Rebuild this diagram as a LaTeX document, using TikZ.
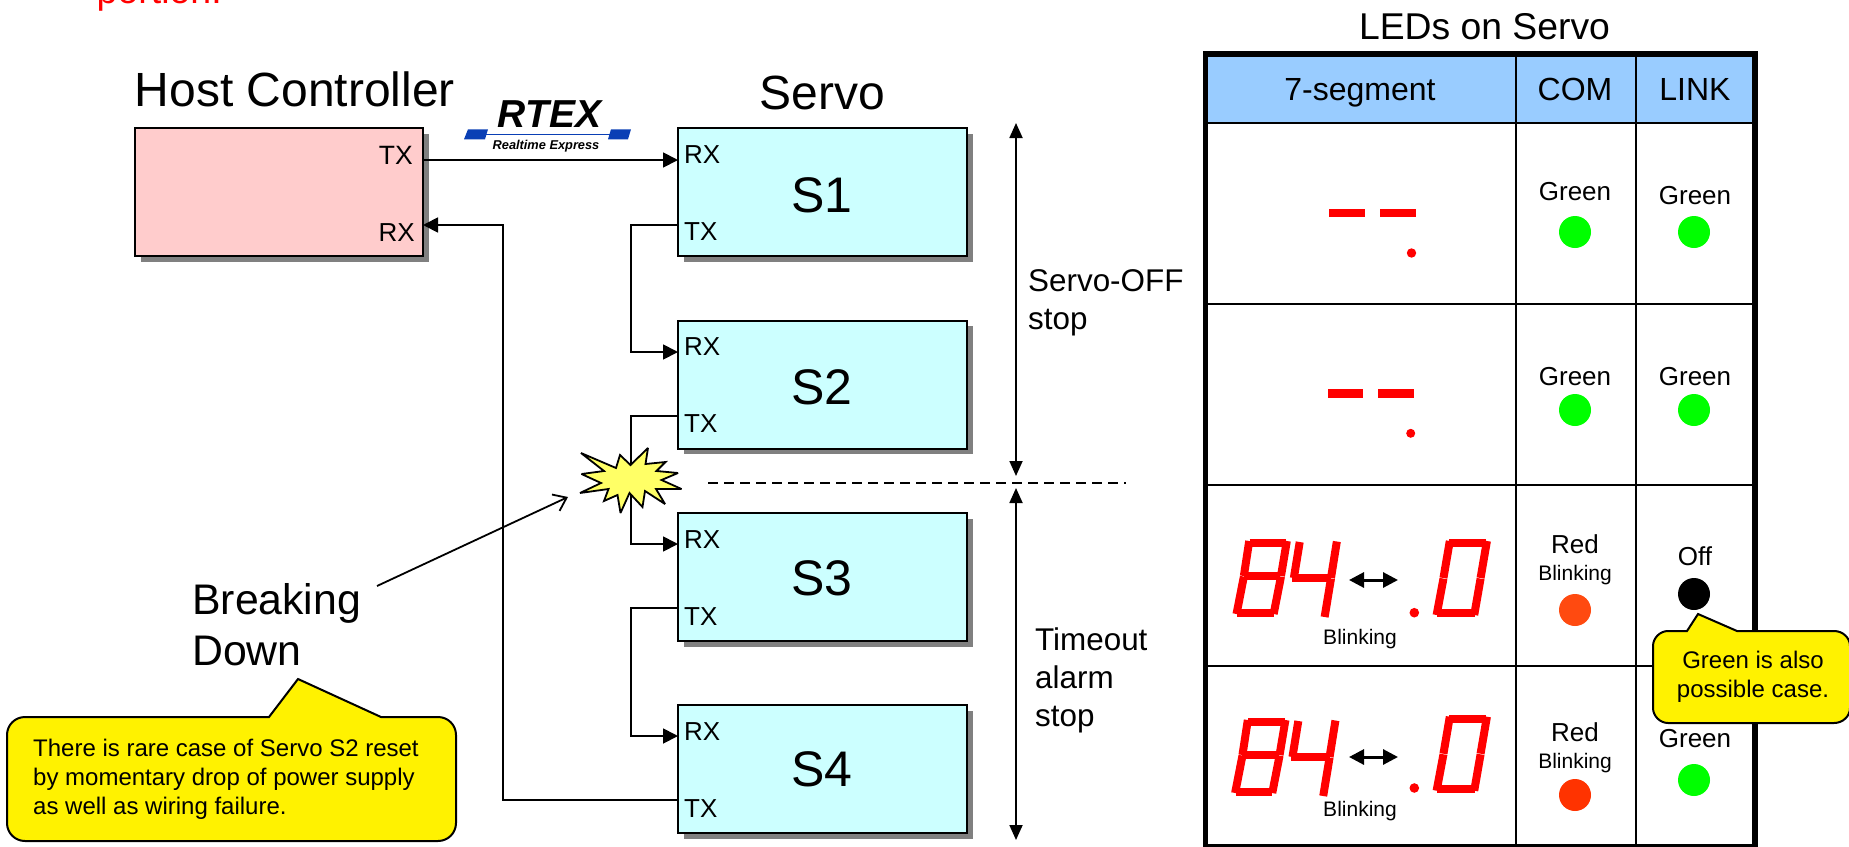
\documentclass[tikz,border=0pt]{standalone}
\usepackage{fontspec}
\setmainfont{Liberation Sans}
\usetikzlibrary{arrows.meta,shadows}
\definecolor{hostfill}{HTML}{FFCCCC}
\definecolor{servofill}{HTML}{CCFFFF}
\definecolor{headfill}{HTML}{99CCFF}
\definecolor{shadowgray}{HTML}{808080}
\definecolor{starfill}{HTML}{FFFF66}
\definecolor{logoblue}{HTML}{0A3FB5}
\definecolor{ledgreen}{HTML}{00FF00}
\definecolor{ledredA}{HTML}{FF4A10}
\definecolor{ledredB}{HTML}{FF3300}
\tikzset{
  x=1pt,y=-1pt,
  hwbox/.style={draw=black,line width=2pt,inner sep=0pt,minimum height=128pt,
    general shadow={fill=shadowgray,shadow xshift=5.5pt,shadow yshift=-5.5pt}},
  hostbox/.style={hwbox,fill=hostfill,minimum width=288pt},
  servobox/.style={hwbox,fill=servofill,minimum width=289pt},
  txt/.style={inner sep=0pt,anchor=base,font=\fontsize{#1}{#1}\selectfont},
  txtl/.style={inner sep=0pt,anchor=base west,font=\fontsize{#1}{#1}\selectfont},
  txtr/.style={inner sep=0pt,anchor=base east,font=\fontsize{#1}{#1}\selectfont},
  wire/.style={line width=1.8pt,draw=black},
  wirearrow/.style={wire,-{Triangle[length=15pt,width=15pt]}},
  spanarrow/.style={line width=1.8pt,{Triangle[length=15pt,width=13pt]}-{Triangle[length=15pt,width=13pt]}},
  blinkarrow/.style={line width=3pt,{Triangle[length=15pt,width=15pt]}-{Triangle[length=15pt,width=15pt]}},
  seg/.style={draw=red,line width=8pt},
  gridline/.style={draw=black,line width=2.5pt},
  callout/.style={draw=black,line width=2pt,fill=yellow},
}
\newcommand{\digiteight}[2]{\begin{scope}[shift={(#1,#2)},xscale=.977]
  \draw[seg] (0,0)--(37.5,0); \draw[seg] (-6,33.3)--(31.5,33.3); \draw[seg] (-13,69.7)--(24.5,69.7);
  \draw[seg] (-.5,-2)--(-6,33); \draw[seg] (-6,33.6)--(-13.5,71);
  \draw[seg] (38,-2)--(32,33); \draw[seg] (32,33.6)--(24.5,71);
\end{scope}}
\newcommand{\digitfour}[2]{\begin{scope}[shift={(#1,#2)},xscale=.977]
  \draw[seg] (0,-2)--(-6,34); \draw[seg] (-7.5,34.3)--(32,34.3);
  \draw[seg] (38,-2.5)--(32,34); \draw[seg] (32,34.6)--(25.5,73);
\end{scope}}
\newcommand{\digitzero}[2]{\begin{scope}[shift={(#1,#2)},xscale=.977]
  \draw[seg] (0,0)--(38,0); \draw[seg] (-12.5,70.3)--(26,70.3);
  \draw[seg] (.5,-2)--(-6,35); \draw[seg] (-6,35.6)--(-13,72);
  \draw[seg] (38.5,-2)--(32,35); \draw[seg] (32,35.6)--(25.5,72);
\end{scope}}
\begin{document}
\begin{tikzpicture}
\useasboundingbox (0,0) rectangle (1849,846);
\clip (0,0) rectangle (1849,846);
% ports
\coordinate (hosttx) at (423,160); \coordinate (hostrx) at (423,225);
\coordinate (s1rx) at (678,160); \coordinate (s1tx) at (678,225);
\coordinate (s2rx) at (678,352); \coordinate (s2tx) at (678,416);
\coordinate (s3rx) at (678,544); \coordinate (s3tx) at (678,608);
\coordinate (s4rx) at (678,736); \coordinate (s4tx) at (678,800);
% boxes
\node[hostbox] (host) at (279,192) {};
\node[servobox] (s1) at (822.5,192) {};
\node[servobox] (s2) at (822.5,384.5) {};
\node[servobox] (s3) at (822.5,577) {};
\node[servobox] (s4) at (822.5,769) {};
% connectors
\draw[wirearrow] (hosttx) -- (s1rx);
\draw[wirearrow] (s1tx) -- (631,225) -- (631,352) -- (s2rx);
\draw[wirearrow] (s2tx) -- (631,416) -- (631,544) -- (s3rx);
\draw[wirearrow] (s3tx) -- (631,608) -- (631,736) -- (s4rx);
\draw[wirearrow] (s4tx) -- (503,800) -- (503,225) -- (hostrx);
% titles
\node[txtl=48] (thost) at (134.5,106) {Host Controller};
\node[txt=48] (tservo) at (822,109) {Servo};
% port labels
\node[txtr=26.5] (ptx) at (413,164) {TX};
\node[txtr=26] (prx) at (415,241) {RX};
\foreach \n/\y in {a/0,b/192,c/385,d/577}{
  \node[txtl=26] (rx\n) at (684,163.5+\y) {RX};
  \node[txtl=26] (tx\n) at (684,240.5+\y) {TX};
}
\node[txt=50] (ts1) at (822,212.5) {S1};
\node[txt=50] (ts2) at (822,404.5) {S2};
\node[txt=50] (ts3) at (822,595.5) {S3};
\node[txt=50] (ts4) at (822,786.5) {S4};
% logo
\node[txt=39,font=\fontsize{39}{39}\selectfont\bfseries\itshape] (rtex) at (549.5,127) {RTEX};
\fill[logoblue] (464,139.3) -- (468,129.3) -- (488,129.3) -- (485,139.3) -- cycle;
\fill[logoblue] (608,139.3) -- (611,129.3) -- (631,129.3) -- (628,139.3) -- cycle;
\draw[logoblue,line width=1.5pt] (486,134.3) -- (610,134.3);
\node[txt=12.8,font=\fontsize{12.8}{12.8}\selectfont\bfseries\itshape] (rtexsub) at (546,149) {Realtime Express};
% star
\draw[line width=1.8pt,fill=starfill,line join=miter,miter limit=3] (581,453) -- (616,468) -- (620,455) -- (630.5,465) -- (648,448) -- (645.5,464) -- (665.5,462) -- (656.5,471) -- (678,473) -- (661.5,480) -- (681.5,489) -- (656,489) -- (665,504) -- (645,491) -- (642.5,507) -- (629.5,493) -- (620.5,513) -- (617.5,495) -- (604,501) -- (608.5,489) -- (580,493) -- (601,483) -- (581.5,474) -- (604,471) -- cycle;
\coordinate (starin) at (568,497);
\node[txtl=42.8,align=left,anchor=north west,font=\fontsize{42.8}{51}\selectfont] (brk) at (192,583) {Breaking\\Down};
\draw[line width=1.8pt,-{Straight Barb[length=12pt,width=18pt]}] (377,586) -- (starin);
% spans
\coordinate (sa) at (1016,123); \coordinate (sb) at (1016,476);
\coordinate (sc) at (1016,488); \coordinate (sd) at (1016,840);
\draw[spanarrow] (sa) -- (sb);
\draw[spanarrow] (sc) -- (sd);
\coordinate (da) at (708,483); \coordinate (db) at (1126,483);
\draw[line width=1.8pt,dash pattern=on 10pt off 6pt] (da) -- (db);
\node[txtl=31.4,align=left,anchor=north west,font=\fontsize{31.4}{38}\selectfont] (tso) at (1028,269.5) {Servo-OFF\\stop};
\node[txtl=31.4,align=left,anchor=north west,font=\fontsize{31.4}{38}\selectfont] (tto) at (1035,627.5) {Timeout\\alarm\\stop};
% left callout
\draw[callout] (25,717) -- (269,717) -- (298,679) -- (381,717) -- (438,717) .. controls (448,717) and (456,725) .. (456,735) -- (456,823) .. controls (456,833) and (448,841) .. (438,841) -- (25,841) .. controls (15,841) and (7,833) .. (7,823) -- (7,735) .. controls (7,725) and (15,717) .. (25,717) -- cycle;
\node[txtl=24,align=left,anchor=north west,font=\fontsize{24}{29}\selectfont] (cl) at (33,739) {There is rare case of Servo S2 reset\\by momentary drop of power supply\\as well as wiring failure.};
% table
\node[txt=37.3] (tled) at (1484.5,39) {LEDs on Servo};
\fill[headfill] (1205.5,54) rectangle (1755,123);
\draw[gridline] (1205.5,123) -- (1755,123);
\draw[gridline] (1205.5,304) -- (1755,304);
\draw[gridline] (1205.5,485) -- (1755,485);
\draw[gridline] (1205.5,666) -- (1755,666);
\draw[gridline] (1516,54) -- (1516,847);
\draw[gridline] (1636,54) -- (1636,847);
\draw[line width=5.5pt] (1205.5,54) rectangle (1755,847);
\node[txt=32] (h1) at (1360,100) {7-segment};
\node[txt=32] (h2) at (1575,100) {COM};
\node[txt=32] (h3) at (1695,100) {LINK};
\node[txt=26] (r1c) at (1575,200) {Green};
\node[txt=26] (r1l) at (1695,204) {Green};
\node[txt=26] (r2c) at (1575,385) {Green};
\node[txt=26] (r2l) at (1695,385) {Green};
\node[txt=26] (r3c) at (1575,553) {Red};
\node[txt=21] (r3b) at (1575,580) {Blinking};
\node[txt=26] (r3l) at (1695,565) {Off};
\node[txt=26] (r4c) at (1575,741) {Red};
\node[txt=21] (r4b) at (1575,768) {Blinking};
\node[txt=26] (r4l) at (1695,747) {Green};
\node[txt=21] (b3) at (1360,644) {Blinking};
\node[txt=21] (b4) at (1360,816) {Blinking};
% LEDs
\fill[ledgreen] (1575,232) circle (16);
\fill[ledgreen] (1694,232) circle (16);
\fill[ledgreen] (1575,410) circle (16);
\fill[ledgreen] (1694,410) circle (16);
\fill[ledredA] (1575,610) circle (16);
\fill[black] (1694,594) circle (16);
\fill[ledredB] (1575,795) circle (16);
\fill[ledgreen] (1694,780) circle (16);
% seven segment
\fill[red] (1329,209) rectangle (1365,217);
\fill[red] (1379.5,209) rectangle (1415.6,217);
\fill[red] (1411.5,253) circle (4.7);
\fill[red] (1328,389.3) rectangle (1363.3,397.7);
\fill[red] (1378,389.3) rectangle (1413.7,397.7);
\fill[red] (1410.7,433.3) circle (4.5);
\digiteight{1249.7}{543}
\digitfour{1299.7}{544}
\digitzero{1449.3}{543}
\fill[red] (1414.3,612.7) circle (4.8);
\digiteight{1248.3}{722}
\digitfour{1298.3}{723}
\digitzero{1449.3}{718.7}
\fill[red] (1414.3,788) circle (4.8);
\coordinate (ba) at (1349,580); \coordinate (bb) at (1398,580);
\coordinate (bc) at (1349,757); \coordinate (bd) at (1398,757);
\draw[blinkarrow] (ba) -- (bb);
\draw[blinkarrow] (bc) -- (bd);
% right callout
\draw[callout] (1668,631) -- (1687,631) -- (1698,614) -- (1737,631) -- (1834,631) .. controls (1843,631) and (1850,638) .. (1850,646) -- (1850,708) .. controls (1850,716) and (1843,723) .. (1834,723) -- (1668,723) .. controls (1660,723) and (1653,716) .. (1653,708) -- (1653,646) .. controls (1653,638) and (1660,631) .. (1668,631) -- cycle;
\node[txt=24,align=center,anchor=north,font=\fontsize{24}{29}\selectfont] (cr) at (1753,650.5) {Green is also\\possible case.};
% clipped red note
\node[txtl=37.5,text=red] (note) at (96.5,3) {portion.};
\end{tikzpicture}
\end{document}
